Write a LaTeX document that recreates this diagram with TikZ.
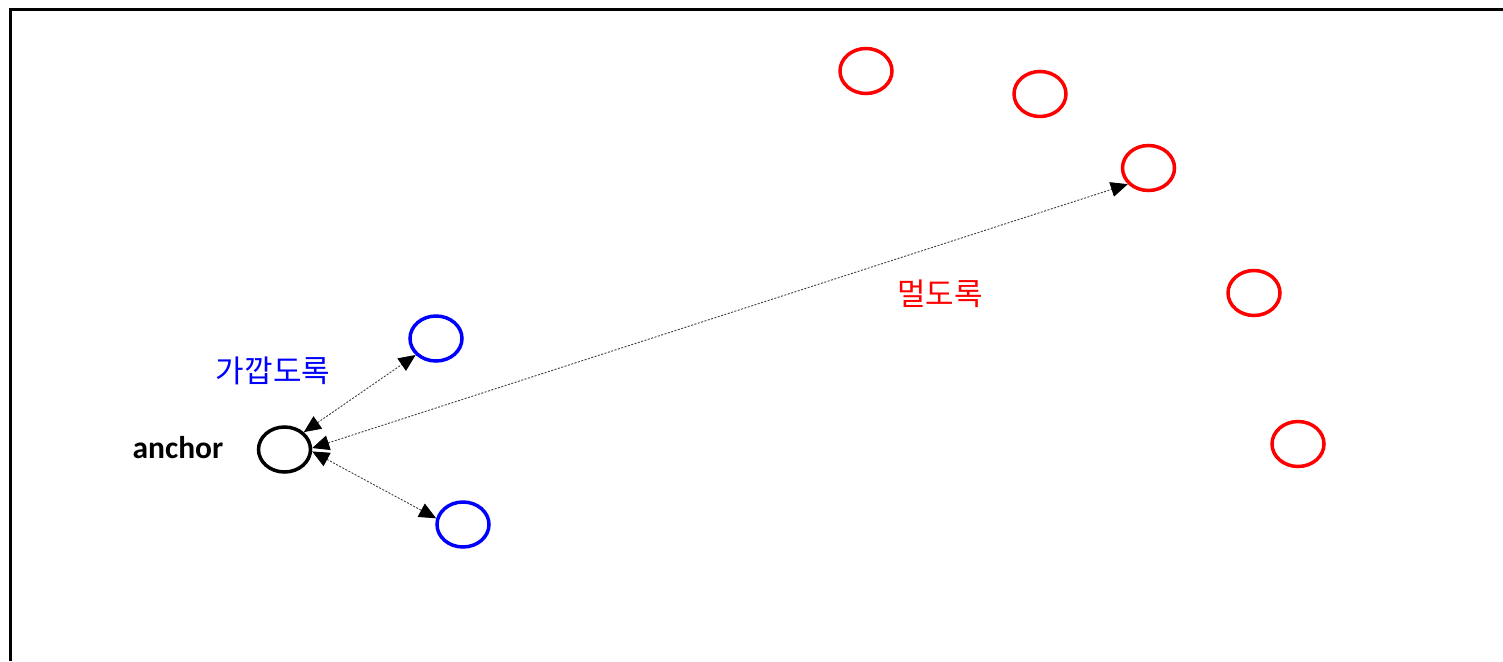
\documentclass[tikz,border=0pt]{standalone}
\usepackage{fontspec}
\setmainfont{Carlito}
\newfontfamily\kr{Noto Sans CJK KR}
\usetikzlibrary{arrows.meta,shapes.geometric}
\begin{document}
\begin{tikzpicture}[x=1pt,y=-1pt,
  circ/.style={ellipse,draw,line width=3.5pt,minimum width=52pt,minimum height=45pt,inner sep=0pt},
  link/.style={draw=black!75,line width=0.9pt,dash pattern=on 2pt off 1.5pt,
    {Triangle[length=17pt,width=15pt,black]}-{Triangle[length=17pt,width=15pt,black]}},
  lbl/.style={font=\kr\fontsize{31}{36}\selectfont,inner sep=0pt}]
\useasboundingbox (0,0) rectangle (1503,661);
\fill[white] (0,0) rectangle (1503,661);
\coordinate (tl) at (10.5,10);
\coordinate (tr) at (1503,10);
\coordinate (bl) at (10.5,661);
\draw[line width=3pt] (bl) -- (tl) -- (tr);
\node[circ,draw=black] (anc) at (284.5,449.5) {};
\node[circ,draw=blue] (b1) at (436,338.5) {};
\node[circ,draw=blue] (b2) at (463,524.5) {};
\node[circ,draw=red] (r1) at (866,71) {};
\node[circ,draw=red] (r2) at (1040,94) {};
\node[circ,draw=red] (r3) at (1148.5,168) {};
\node[circ,draw=red] (r4) at (1254,293) {};
\node[circ,draw=red] (r5) at (1298,444) {};
\node[font=\bfseries\fontsize{31.5}{37}\selectfont,inner sep=0pt] (alab) at (178,448) {anchor};
\node[lbl,text=blue] (near) at (273,371) {가깝도록};
\node[lbl,text=red] (far) at (940,294) {멀도록};
\draw[link] (anc.42) -- (b1.219);
\draw[link] (anc.-4) -- (b2.167);
\draw[link] (anc.3) -- (r3.218);
\end{tikzpicture}
\end{document}
